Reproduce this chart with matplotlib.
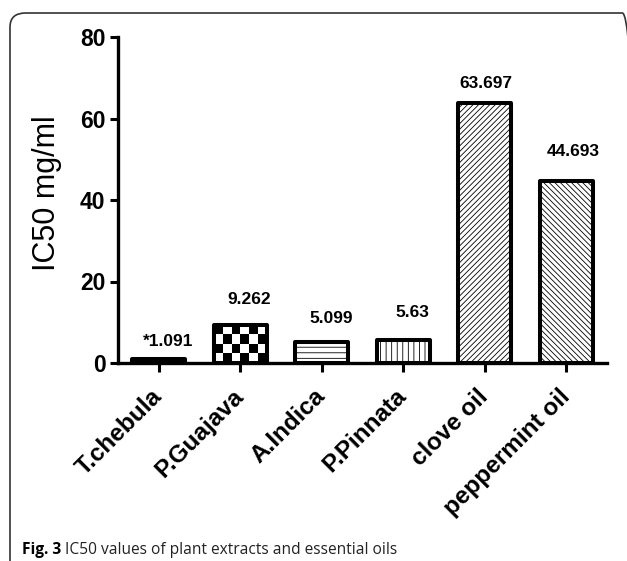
import numpy as np
import matplotlib
matplotlib.use('Agg')
import matplotlib.pyplot as plt
from matplotlib.patches import FancyBboxPatch

# данные с рисунка
categories = ['T.chebula', 'P.Guajava', 'A.Indica', 'P.Pinnata', 'clove oil', 'peppermint oil']
ic50 = [1.091, 9.262, 5.099, 5.63, 63.697, 44.693]
value_labels = ['*1.091', '9.262', '5.099', '5.63', '63.697', '44.693']
y_ticks = [0, 20, 40, 60, 80]

# штриховки и смещения подписей (в пикселях)
hatches = ['', 'checker', '---', '|||', '//////', '\\\\\\\\\\\\']
label_dy = [12.6, 21, 19, 23, 15, 25]
label_dx = [9, 9, 9, 9, 1, 7]

plt.rcParams['font.family'] = ['Liberation Sans', 'DejaVu Sans']
plt.rcParams['hatch.linewidth'] = 0.6

W, H = 627, 561
fig = plt.figure(figsize=(W / 100, H / 100), dpi=100)

# рамка вокруг рисунка (уходит за правый и нижний край)
frame = FancyBboxPatch((10 / W, -60 / H), 628 / W, (561 - 13 + 60) / H,
                       boxstyle='round,pad=0,rounding_size=0.025',
                       transform=fig.transFigure, fill=False,
                       edgecolor='#333333', linewidth=1.2)
fig.patches.append(frame)

ax = fig.add_axes([118 / W, 1 - 363 / H, (607 - 118) / W, (363 - 37) / H])
x = np.arange(len(categories))

bars = ax.bar(x, ic50, width=0.65, color='white', edgecolor='black',
              linewidth=2.9, zorder=3)
for bar, h in zip(bars, hatches):
    bar.set_joinstyle('round')
    if h == 'checker':
        # шахматная заливка, обрезанная по столбцу
        x0, w = bar.get_x(), bar.get_width()
        top = bar.get_height()
        ncol, nrow = 6, 4
        board = (np.indices((nrow, ncol)).sum(axis=0) % 2)
        im = ax.imshow(board, cmap='gray', interpolation='nearest',
                       extent=(x0, x0 + w, 0, top), aspect='auto', zorder=2.5)
        im.set_clip_path(bar)
        bar.set_facecolor('none')
    elif h:
        bar.set_hatch(h)

for xi, v, lab, dx, dy in zip(x, ic50, value_labels, label_dx, label_dy):
    ax.annotate(lab, (xi, v), xytext=(dx * 0.72, dy * 0.72),
                textcoords='offset points', ha='center', va='baseline',
                fontsize=12.5, fontweight='bold')

ax.set_xlim(-0.5, len(categories) - 0.5)
ax.set_ylim(0, 80)
ax.set_yticks(y_ticks)
ax.set_xticks(x)
ax.set_xticklabels(categories, rotation=45, ha='right', va='center',
                   rotation_mode='anchor', fontsize=17.5, fontweight='bold')
for t in ax.get_yticklabels():
    t.set_fontweight('bold')
    t.set_fontsize(16.5)

ax.spines['top'].set_visible(False)
ax.spines['right'].set_visible(False)
for s in ['left', 'bottom']:
    ax.spines[s].set_linewidth(2.4)
ax.tick_params(axis='y', direction='out', length=6, width=2.2, pad=3)
ax.tick_params(axis='x', direction='out', length=6.5, width=2.2, pad=15)

ax.set_ylabel('IC50 mg/ml', fontsize=22)
ax.yaxis.set_label_coords(-0.115, 0.52)

# подпись к рисунку: жирная часть + обычная
cap1 = fig.text(22 / W, 1 - 554 / H, 'Fig. 3', fontsize=11.2, fontweight='bold',
                family=['Open Sans', 'DejaVu Sans'], va='baseline')
fig.canvas.draw()
bb = cap1.get_window_extent()
fig.text((bb.x1 + 4) / W, 1 - 554 / H, 'IC50 values of plant extracts and essential oils',
         fontsize=11.2, family=['Open Sans', 'DejaVu Sans'], va='baseline',
         color='#222222')

fig.savefig('out.png', dpi=100)
